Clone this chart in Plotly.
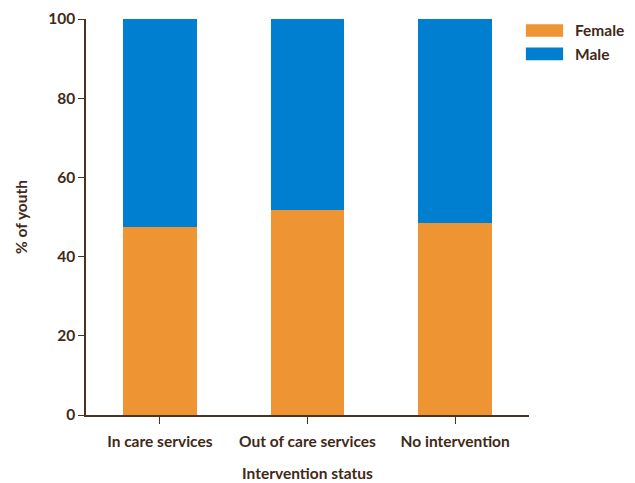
import plotly.graph_objects as go

categories = ["In care services", "Out of care services", "No intervention"]
female = [47.5, 51.8, 48.5]
male = [52.5, 48.2, 51.5]
series_names = ["Female", "Male"]
y_ticks = [0, 20, 40, 60, 80, 100]

c_female = "#EF9433"
c_male = "#007ED0"
txt = "#3F2A18"
axis_c = "#4A3421"
font = dict(family="Lato, 'Open Sans', sans-serif", size=15.5, color=txt, weight="bold")

fig = go.Figure()
fig.add_trace(go.Bar(x=categories, y=female, name=series_names[0], marker_color=c_female,
                     marker_line_width=0, width=0.5, showlegend=False))
fig.add_trace(go.Bar(x=categories, y=male, name=series_names[1], marker_color=c_male,
                     marker_line_width=0, width=0.5, showlegend=False))

# Legend drawn as swatches + labels
legend_rows = [(series_names[0], c_female, 0.971), (series_names[1], c_male, 0.912)]
for name, col, yc in legend_rows:
    fig.add_shape(type="rect", xref="paper", yref="paper", x0=0.993, x1=1.077,
                  y0=yc - 0.016, y1=yc + 0.016, fillcolor=col, line_width=0)
    fig.add_annotation(x=1.100, y=yc, xref="paper", yref="paper", text=name,
                       showarrow=False, xanchor="left", yanchor="middle", font=font)

fig.update_layout(
    barmode="stack",
    width=635, height=483,
    margin=dict(l=86, r=106, t=19, b=68),
    paper_bgcolor="white", plot_bgcolor="white",
    font=font,
    showlegend=False,
    xaxis=dict(
        range=[-0.5, 2.5], showgrid=False, showline=True, linecolor=axis_c, linewidth=1.5,
        ticks="outside", ticklen=7, tickcolor=axis_c, tickfont=font, automargin=False,
        ticklabelstandoff=5,
        title=dict(text="Intervention status", font=font, standoff=19),
    ),
    yaxis=dict(
        range=[0, 100], tickvals=y_ticks, showgrid=False, zeroline=False, showline=True,
        linecolor=axis_c, linewidth=1.5, ticks="outside", ticklen=6, tickcolor=axis_c,
        automargin=False,
        tickfont=font, title=dict(text="% of youth", font=font, standoff=17),
    ),
)

fig.write_html("out.html", config={"displayModeBar": False},
               post_script="document.body.style.margin='0px';")
